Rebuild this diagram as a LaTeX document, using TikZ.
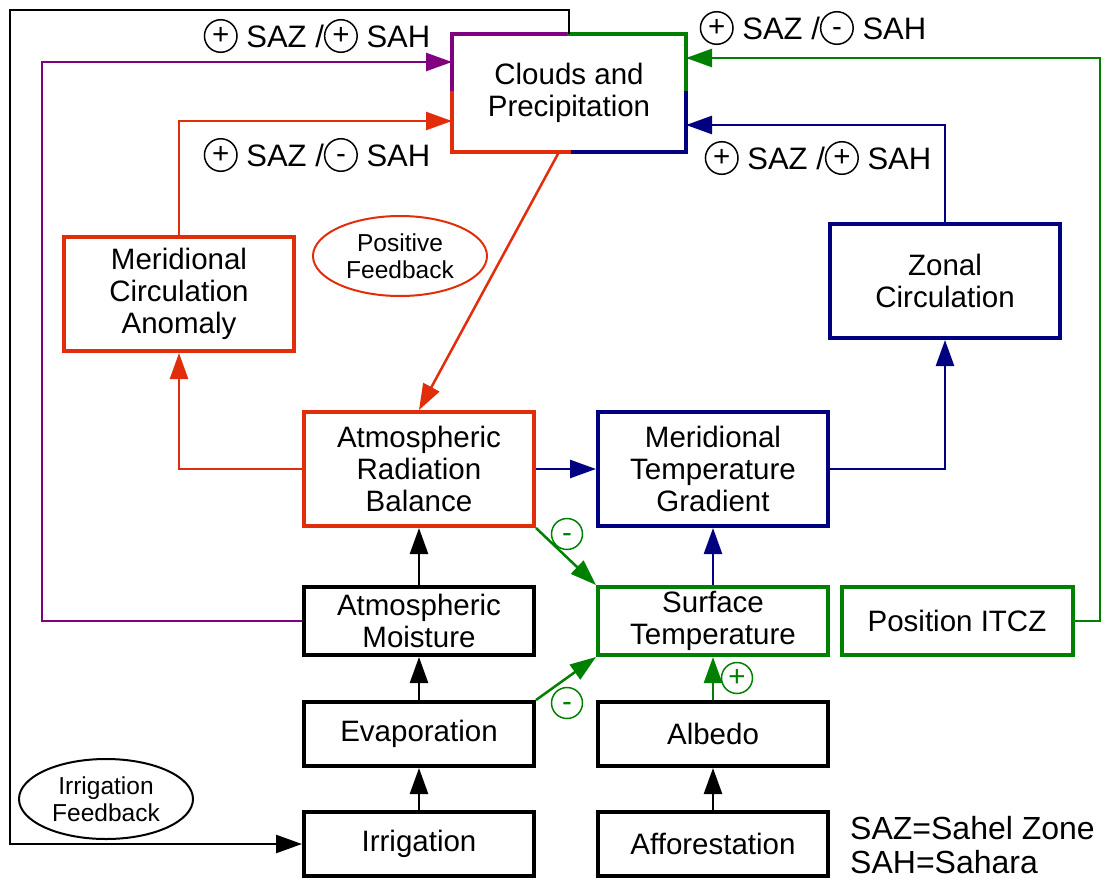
\documentclass[tikz,border=0pt]{standalone}
\usepackage{fontspec}
\setmainfont{Liberation Sans}
\usetikzlibrary{arrows.meta, positioning, shapes.geometric}
\definecolor{fbred}{RGB}{225,45,10}
\definecolor{fbblue}{RGB}{0,0,128}
\definecolor{fbgreen}{RGB}{0,128,0}
\definecolor{fbpurple}{RGB}{128,0,128}

% circled sign inside a label
\newcommand{\csign}[1]{\tikz[baseline={([yshift=-0.36em]cs.center)}]
  \node[draw, circle, line width=1.5pt, inner sep=0pt, minimum size=1.05em] (cs) {\vphantom{+}#1};}

\begin{document}
\begin{tikzpicture}[x=1pt, y=-1pt,
  every node/.style={font=\fontsize{29.5}{32}\selectfont},
  box/.style={rectangle, draw, line width=4pt, align=center,
              minimum width=230pt, minimum height=114pt, inner sep=0pt},
  lowbox/.style={box, minimum height=68pt},
  redbox/.style={box, draw=fbred},
  bluebox/.style={box, draw=fbblue},
  greenbox/.style={lowbox, draw=fbgreen},
  bubble/.style={ellipse, draw, line width=2pt, align=center, inner sep=0pt,
                 font=\fontsize{24.5}{27}\selectfont},
  lbl/.style={inner sep=0pt, font=\fontsize{31}{34}\selectfont},
  signmark/.style={circle, draw=fbgreen, text=fbgreen, line width=1.5pt,
               inner sep=0pt, minimum size=31pt},
  arr/.style={-{Triangle[length=26pt, width=18pt]}, line width=2.5pt},
]
\useasboundingbox (0,0) rectangle (1105,881);

% boxes
\node[box, draw=none] (clouds) at (569,93)   {Clouds and\\Precipitation};
\node[redbox]   (mca)    at (179,294)  {Meridional\\Circulation\\Anomaly};
\node[bluebox]  (zonal)  at (945,281)  {Zonal\\Circulation};
\node[redbox]   (arb)    at (419,469)  {Atmospheric\\Radiation\\Balance};
\node[bluebox]  (mtg)    at (713,469)  {Meridional\\Temperature\\Gradient};
\node[greenbox] (surf)   at (713,621)  {Surface\\Temperature};
\node[greenbox, minimum width=231pt] (itcz) at (957,621) {Position ITCZ};
\node[lowbox]   (moist)  at (419,621)  {Atmospheric\\Moisture};
\node[lowbox, minimum height=64pt] (evap)   at (419,734) {Evaporation};
\node[lowbox, minimum height=64pt] (albedo) at (713,734) {Albedo};
\node[lowbox, minimum height=64pt] (irrig)  at (419,844) {Irrigation};
\node[lowbox, minimum height=64pt] (affor)  at (713,844) {Afforestation};

% four coloured sides of the clouds box
\begin{scope}[line width=4pt, line cap=rect]
  \draw[fbpurple] (clouds.west) -- (clouds.north west) -- (clouds.north);
  \draw[fbgreen]  (clouds.north) -- (clouds.north east) -- (clouds.east);
  \draw[fbblue]   (clouds.east) -- (clouds.south east) -- (clouds.south);
  \draw[fbred]    (clouds.south) -- (clouds.south west) -- (clouds.west);
\end{scope}

% ellipses
\node[bubble, draw=fbred, minimum width=174pt, minimum height=80pt] (posfb) at (400,256) {Positive\\Feedback};
\node[bubble, minimum width=174pt, minimum height=80pt] (irrfb) at (106,799) {Irrigation\\Feedback};

% corner points of the long loops
\coordinate (blk) at (10,10);
\coordinate (pur) at (42,62);
\coordinate (grn) at (1100,58);

% black
\draw[arr] (clouds.north) |- (blk) |- (irrig.west);
\draw[arr] (irrig) -- (evap);
\draw[arr] (evap) -- (moist);
\draw[arr] (moist) -- (arb);
\draw[arr] (affor) -- (albedo);

% purple
\draw[arr, fbpurple] (moist.west) -| (pur) -- (clouds.west |- pur);

% red
\draw[arr, fbred] (mca.north) |- ([yshift=-28pt]clouds.west);
\draw[arr, fbred] ([xshift=-10pt]clouds.south) -- (arb.north);
\draw[arr, fbred] (arb.west) -| (mca.south);

% blue
\draw[arr, fbblue] (arb) -- (mtg);
\draw[arr, fbblue] (mtg.east) -| (zonal.south);
\draw[arr, fbblue] (zonal.north) |- ([yshift=-32pt]clouds.east);
\draw[arr, fbblue] (surf) -- (mtg);

% green
\draw[arr, fbgreen] (itcz.east) -| (grn) -- (clouds.east |- grn);
\draw[arr, fbgreen] (arb.south east) -- (surf.north west);
\draw[arr, fbgreen] (evap.north east) -- (surf.south west);
\draw[arr, fbgreen] (albedo) -- (surf);

\node[signmark] (m1) at (567,534) {\vphantom{+}-};
\node[signmark] (m2) at (567,703) {\vphantom{+}-};
\node[signmark] (m3) at (737,678) {+};

% sign labels
\node[lbl] (l1) at (317,36)  {\csign{+} SAZ /\csign{+} SAH};
\node[lbl] (l2) at (317,155) {\csign{+} SAZ /\csign{-} SAH};
\node[lbl] (l3) at (813,28)  {\csign{+} SAZ /\csign{-} SAH};
\node[lbl] (l4) at (818,158) {\csign{+} SAZ /\csign{+} SAH};

% legend
\node[lbl, anchor=west, align=left, font=\fontsize{32}{34}\selectfont] (legend) at (850,845) {SAZ=Sahel Zone\\SAH=Sahara};
\end{tikzpicture}
\end{document}
